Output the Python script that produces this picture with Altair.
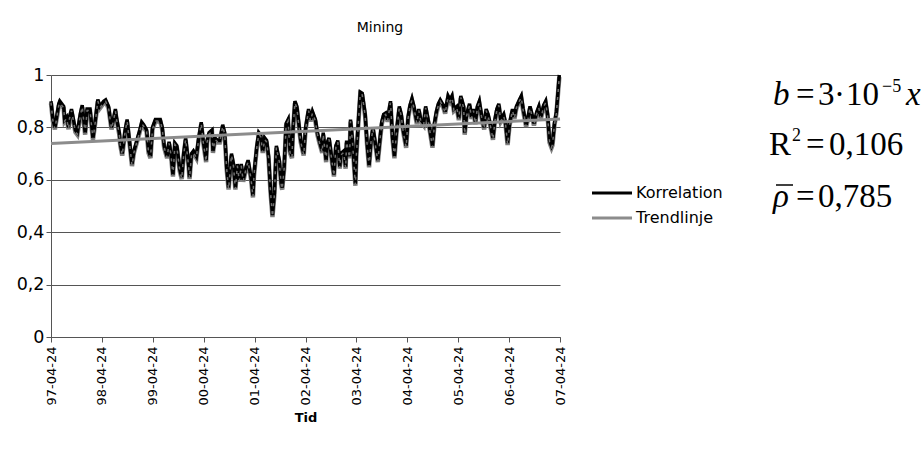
import altair as alt
import pandas as pd

# ---------------- data ----------------
start_date = pd.Timestamp("1997-04-24")

# week number after 1997-04-24 and the correlation value
weeks = [0, 2, 4, 8, 9, 13, 14, 16, 18, 19, 21, 23, 25, 27, 30, 32, 35, 37, 40, 43,
         45, 48, 50, 54, 56, 59, 62, 64, 66, 67, 70, 71, 73, 76, 78, 81, 83, 85, 88, 91,
         93, 95, 98, 100, 102, 104, 107, 109, 112, 114, 116, 119, 121, 123, 125, 127, 129, 132, 134, 136,
         138, 141, 142, 144, 146, 149, 151, 154, 156, 159, 160, 162, 165, 166, 168, 171, 173, 176, 178, 180,
         182, 185, 187, 189, 191, 193, 195, 197, 200, 202, 205, 207, 208, 211, 213, 215, 217, 219, 221, 223,
         225, 227, 229, 231, 232, 234, 236, 237, 239, 241, 243, 245, 247, 248, 250, 252,
         256, 259, 261, 264, 266, 268, 271, 273, 275, 278, 279, 282, 283, 285, 288, 290, 292, 294, 296, 297,
         300, 302, 303, 306, 307, 309, 312, 313, 316, 317, 319, 322, 324, 326, 328, 330, 332, 335, 337, 339,
         341, 343, 345, 348, 350, 352, 354, 357, 359, 361, 364, 366, 368, 370, 372, 375, 377, 379, 382, 384,
         386, 388, 391, 393, 395, 397, 399, 402, 404, 407, 409, 411, 413, 416, 418, 420, 423, 424, 426, 429,
         431, 433, 435, 437, 439, 442, 444, 446, 448, 451, 453, 455, 457, 459, 461, 464, 466, 468, 470, 473,
         475, 477, 480, 482, 484, 487, 489, 491, 493, 495, 498, 500, 502, 505, 507, 509, 511, 513, 514, 516,
         518, 519, 521]
corr = [0.90, 0.83, 0.80, 0.89, 0.90, 0.88, 0.83, 0.84, 0.80, 0.84, 0.87, 0.83, 0.79, 0.78, 0.85, 0.885, 0.78, 0.87, 0.87, 0.76,
        0.815, 0.907, 0.88, 0.90, 0.905, 0.88, 0.80, 0.83, 0.87, 0.84, 0.78, 0.74, 0.70, 0.79, 0.83, 0.73, 0.66, 0.71, 0.75, 0.79,
        0.82, 0.81, 0.79, 0.71, 0.69, 0.80, 0.83, 0.83, 0.83, 0.80, 0.73, 0.69, 0.745, 0.70, 0.62, 0.74, 0.73, 0.64, 0.61, 0.70,
        0.76, 0.66, 0.61, 0.70, 0.71, 0.69, 0.75, 0.82, 0.75, 0.675, 0.75, 0.78, 0.79, 0.71, 0.76, 0.75, 0.75, 0.81, 0.78, 0.65,
        0.57, 0.70, 0.66, 0.57, 0.66, 0.60, 0.66, 0.60, 0.65, 0.675, 0.61, 0.54, 0.62, 0.73, 0.78, 0.77, 0.71, 0.76, 0.75, 0.69,
        0.56, 0.465, 0.55, 0.73, 0.71, 0.675, 0.585, 0.57, 0.65, 0.815, 0.83, 0.71, 0.69, 0.79, 0.90, 0.88,
        0.75, 0.70, 0.80, 0.87, 0.83, 0.86, 0.83, 0.78, 0.75, 0.71, 0.78, 0.675, 0.74, 0.76, 0.675, 0.62, 0.73, 0.75, 0.65, 0.70,
        0.71, 0.65, 0.75, 0.69, 0.83, 0.75, 0.585, 0.70, 0.88, 0.935, 0.93, 0.85, 0.74, 0.655, 0.75, 0.80, 0.75, 0.675, 0.75, 0.82,
        0.85, 0.855, 0.83, 0.90, 0.765, 0.69, 0.78, 0.88, 0.85, 0.79, 0.73, 0.84, 0.885, 0.91, 0.88, 0.82, 0.87, 0.83, 0.815, 0.88,
        0.84, 0.80, 0.73, 0.815, 0.86, 0.89, 0.905, 0.885, 0.86, 0.92, 0.905, 0.92, 0.87, 0.88, 0.835, 0.92, 0.88, 0.78, 0.85, 0.89,
        0.84, 0.87, 0.82, 0.88, 0.90, 0.83, 0.80, 0.87, 0.85, 0.80, 0.76, 0.83, 0.87, 0.89, 0.83, 0.85, 0.815, 0.74, 0.815, 0.87,
        0.84, 0.88, 0.905, 0.92, 0.87, 0.81, 0.84, 0.88, 0.85, 0.815, 0.86, 0.88, 0.84, 0.885, 0.90, 0.85, 0.75, 0.73, 0.74, 0.815,
        0.86, 0.905, 1.0]

trend_dates = ["1997-04-24", "2007-04-24"]
trend_values = [0.739, 0.832]

tick_years = [1997, 1998, 1999, 2000, 2001, 2002, 2003, 2004, 2005, 2006, 2007]
y_ticks = [0, 0.2, 0.4, 0.6, 0.8, 1]
series_names = ["Korrelation", "Trendlinje"]
series_colors = ["#000000", "#8c8c8c"]

corr_df = pd.DataFrame({
    "date": [(start_date + pd.Timedelta(days=7 * w)).strftime("%Y-%m-%d") for w in weeks],
    "value": corr,
})
trend_df = pd.DataFrame({"date": trend_dates, "value": trend_values})

# ---------------- layout ----------------
W, H = 509, 262
LEFT, TOP = 51, 75
SANS = "DejaVu Sans"
SERIF = "Liberation Serif"


def dt(y):
    return alt.DateTime(year=y, month=4, date=24, utc=True)


x_enc = alt.X(
    "date:T",
    scale=alt.Scale(domain=[dt(tick_years[0]), dt(tick_years[-1])]),
    axis=alt.Axis(
        values=[dt(y) for y in tick_years],
        labelExpr="utcFormat(datum.value, '%y-%m-%d')",
        labelAngle=270,
        labelFontSize=13,
        labelFont=SANS,
        labelColor="#000000",
        labelPadding=4,
        title="Tid",
        titleFont=SANS,
        titleFontSize=13,
        titleFontWeight="bold",
        titleColor="#000000",
        titlePadding=6,
        grid=False,
        domainColor="#555555",
        tickColor="#555555",
        tickSize=5,
        labelOverlap=False,
    ),
)
y_enc = alt.Y(
    "value:Q",
    scale=alt.Scale(domain=[0, 1], nice=False, zero=True),
    axis=alt.Axis(
        values=y_ticks,
        labelExpr="replace(format(datum.value, '~g'), '.', ',')",
        labelFontSize=17.5,
        labelFont=SANS,
        labelColor="#000000",
        labelPadding=2,
        title=None,
        grid=True,
        gridColor="#555555",
        gridWidth=1,
        domainColor="#555555",
        tickColor="#555555",
        tickSize=5,
    ),
)

under = alt.Chart(corr_df).mark_line(color="#808080", strokeWidth=4.5, yOffset=2).encode(x=x_enc, y=y_enc)
main = alt.Chart(corr_df).mark_line(color=series_colors[0], strokeWidth=3.5).encode(x=x_enc, y=y_enc)
dash = alt.Chart(corr_df).mark_line(color="#707070", strokeWidth=1.5, strokeDash=[3, 5], yOffset=1.5).encode(x=x_enc, y=y_enc)
trend = alt.Chart(trend_df).mark_line(color=series_colors[1], strokeWidth=3).encode(x=x_enc, y=y_enc)


def txt(s, x, y, size, font=SERIF, italic=False, align="left", baseline="alphabetic"):
    return alt.Chart(alt.Data(values=[{}])).mark_text(
        text=s, font=font, fontSize=size, fontStyle="italic" if italic else "normal",
        align=align, baseline=baseline, color="#000000",
    ).encode(x=alt.value(x - LEFT), y=alt.value(y - TOP))


def hline(x1, x2, y, color, width):
    return alt.Chart(alt.Data(values=[{}])).mark_rule(color=color, strokeWidth=width).encode(
        x=alt.value(x1 - LEFT), x2=alt.value(x2 - LEFT), y=alt.value(y - TOP)
    )


title = txt("Mining", 380, 32, 14, font=SANS, align="center")

# legend
legend = [
    hline(592, 632, 193, series_colors[0], 3),
    txt(series_names[0], 636, 193, 16, font=SANS, baseline="middle"),
    hline(592, 632, 218, series_colors[1], 3),
    txt(series_names[1], 636, 218, 16, font=SANS, baseline="middle"),
]

F = 33
formula = [
    txt("b", 773, 105, F, italic=True),
    txt("=", 796, 105, F),
    txt("3", 818, 105, F),
    txt("·", 834, 105, F),
    txt("10", 846, 105, F),
    txt("−5", 882, 92, 18),
    txt("x", 906, 105, F, italic=True),
    txt("R", 769, 155, F),
    txt("2", 792, 141, 18),
    txt("=", 806, 155, F),
    txt("0,106", 829, 155, F),
    txt("ρ", 773, 207, F, italic=True),
    txt("=", 796, 207, F),
    txt("0,785", 818, 207, F),
    hline(776, 793, 185, "#000000", 1.5),
]

chart = alt.layer(under, main, dash, trend, title, *legend, *formula).properties(
    width=W, height=H,
    autosize=alt.AutoSizeParams(type="none"),
    padding={"left": LEFT, "top": TOP, "right": 923 - LEFT - W, "bottom": 454 - TOP - H},
).configure_view(strokeWidth=0)

chart.save("out.html", embed_options={"renderer": "svg", "actions": False})
